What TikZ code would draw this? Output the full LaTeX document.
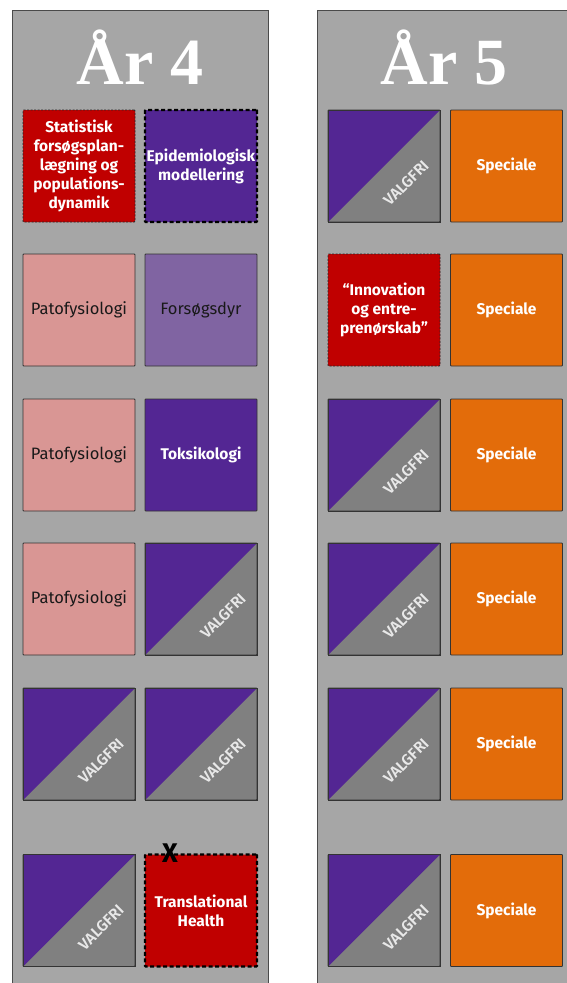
\documentclass[tikz,border=0pt]{standalone}
\usepackage{fontspec}
\setmainfont{Liberation Serif}
\newfontfamily\boxfont{Fira Sans}
\newfontfamily\boxfontsb{Fira Sans SemiBold}
\usetikzlibrary{calc}
\definecolor{panelgray}{HTML}{A6A6A6}
\definecolor{panelline}{HTML}{4A4A4A}
\definecolor{cred}{HTML}{C00000}
\definecolor{cpurple}{HTML}{532693}
\definecolor{clpurple}{HTML}{8064A2}
\definecolor{cpink}{HTML}{D99694}
\definecolor{corange}{HTML}{E36C0A}
\definecolor{vgray}{HTML}{808080}
\definecolor{vtextc}{HTML}{E8E8E8}
\tikzset{
  box/.style={minimum width=112pt, minimum height=112pt, inner sep=0pt, outer sep=0pt,
    draw=black!80, line width=0.8pt, rounded corners=0.8pt},
  thindash/.style={draw=black!85, line width=0.8pt, dash pattern=on 2pt off 1.5pt},
  thickdash/.style={draw=black, line width=2.2pt, dash pattern=on 4pt off 2.5pt},
  wtxt/.style={text=white, align=center, font=\boxfont\bfseries\fontsize{15.5}{19}\selectfont},
  btxt/.style={text=black!90, align=center, font=\boxfont\fontsize{16.5}{19}\selectfont},
  vtext/.style={text=vtextc, font=\boxfontsb\fontsize{15.5}{15.5}\selectfont, inner sep=0pt},
  title/.style={text=white, font=\bfseries\fontsize{66}{66}\selectfont, anchor=base},
  panel/.style={fill=panelgray, draw=panelline, line width=1pt}
}
\newcommand\valgbox[3]{%
  \node[box, fill=vgray] (#1) at (#2,#3) {};
  \fill[cpurple] (#1.north west) -- (#1.north east) -- (#1.south west) -- cycle;
  \draw[black!80, line width=0.8pt] (#1.north west) rectangle (#1.south east);
  \node[vtext, rotate=45] (#1-t) at ($(#1.center)+(22,17)$) {VALGFRI};
}
\begin{document}
\begin{tikzpicture}[x=1pt,y=-1pt]
\useasboundingbox (0,0) rectangle (566,983);
\fill[white] (0,0) rectangle (566,983);
% panels
\fill[panelgray] (12,10) rectangle (268,990);
\draw[panelline, line width=1pt] (12,990) -- (12,10) -- (268,10) -- (268,990);
\fill[panelgray] (317,10) rectangle (575,990);
\draw[panelline, line width=1pt] (317,990) -- (317,10) -- (575,10);
% titles
\node[title] (t4) at (140,84) {År 4};
\node[title] (t5) at (444,84) {År 5};
% Year 4 column 1
\node[box, fill=cred, thindash, wtxt] (a1) at (79,166) {Statistisk\\forsøgsplan-\\lægning og\\populations-\\dynamik};
\node[box, fill=cpink, btxt] (a2) at (79,310) {Patofysiologi};
\node[box, fill=cpink, btxt] (a3) at (79,455) {Patofysiologi};
\node[box, fill=cpink, btxt] (a4) at (79,599) {Patofysiologi};
\valgbox{a5}{79}{744}
\valgbox{a6}{79}{910.5}
% Year 4 column 2
\node[box, fill=cpurple, thickdash, wtxt] (b1) at (201,166) {Epidemiologisk\\modellering};
\node[box, fill=clpurple, btxt] (b2) at (201,310) {Forsøgsdyr};
\node[box, fill=cpurple, wtxt] (b3) at (201,455) {Toksikologi};
\valgbox{b4}{201}{599}
\valgbox{b5}{201}{744}
\node[box, fill=cred, thickdash, wtxt] (b6) at (201,910.5) {Translational\\Health};
\node[text=black, font=\boxfont\bfseries\fontsize{27}{27}\selectfont, inner sep=0pt] (bx) at (170,853) {X};
% Year 5 column 1
\valgbox{c1}{384}{166}
\node[box, fill=cred, thindash, wtxt] (c2) at (384,310) {“Innovation\\og entre-\\prenørskab”};
\valgbox{c3}{384}{455}
\valgbox{c4}{384}{599}
\valgbox{c5}{384}{744}
\valgbox{c6}{384}{910.5}
% Year 5 column 2
\node[box, fill=corange, wtxt] (d1) at (506.5,166) {Speciale};
\node[box, fill=corange, wtxt] (d2) at (506.5,310) {Speciale};
\node[box, fill=corange, wtxt] (d3) at (506.5,455) {Speciale};
\node[box, fill=corange, wtxt] (d4) at (506.5,599) {Speciale};
\node[box, fill=corange, wtxt] (d5) at (506.5,744) {Speciale};
\node[box, fill=corange, wtxt] (d6) at (506.5,910.5) {Speciale};
\end{tikzpicture}
\end{document}
